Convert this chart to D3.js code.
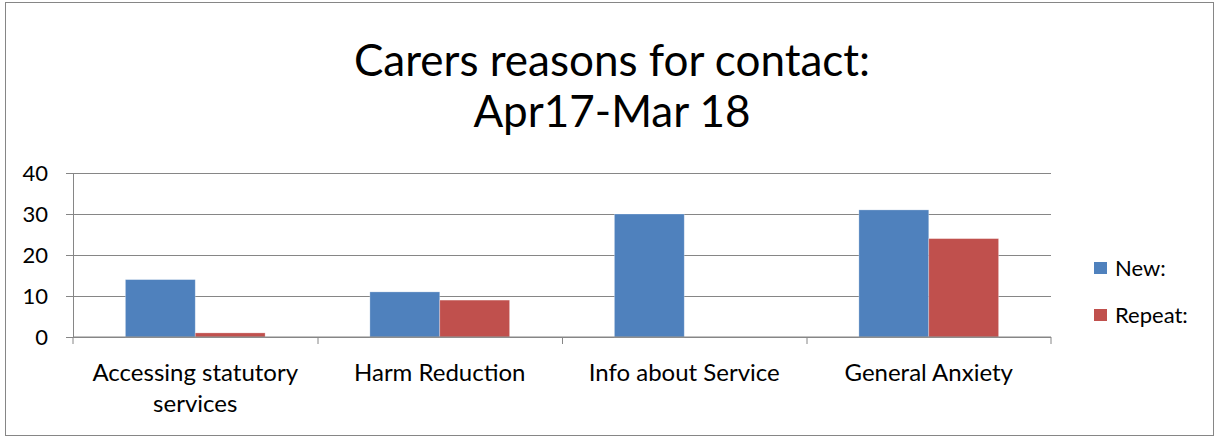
<!DOCTYPE html>
<html>
<head>
<meta charset="utf-8">
<script src="https://cdn.jsdelivr.net/npm/d3@7"></script>
<style>
  body { margin: 0; background: #fff; }
  svg text { font-family: Lato, "Open Sans", sans-serif; fill: #000; }
</style>
</head>
<body>
<div class="chartContainer"></div>
<script>
// data
var categories = ['Accessing statutory services', 'Harm Reduction', 'Info about Service', 'General Anxiety']
var catLines = [['Accessing statutory', 'services'], ['Harm Reduction'], ['Info about Service'], ['General Anxiety']]
var seriesNames = ['New:', 'Repeat:']
var newValues = [14, 11, 30, 31]
var repeatValues = [1, 9, 0, 24]
var yTicks = [0, 10, 20, 30, 40]
var titleLines = ['Carers reasons for contact:', 'Apr17-Mar 18']

var blue = '#4F81BD'
var red = '#C0504D'
var grey = '#868686'

let width = 1216, height = 436
let margin = {top: 173, right: 165, bottom: 99, left: 73}

var svg = d3.select('.chartContainer').append('svg')
    .attr('width', width)
    .attr('height', height)
    .attr('viewBox', [0, 0, width, height])

// outer border
svg.append('rect')
    .attr('x', 5.5).attr('y', 2.5)
    .attr('width', width - 8).attr('height', height - 3)
    .attr('fill', 'none')
    .attr('stroke', grey)

let x0 = d3.scaleBand()
    .domain(categories)
    .range([margin.left, width - margin.right])
    .paddingInner(0)
    .paddingOuter(0)

// excel style gap width 150%
let barW = x0.bandwidth() / 3.5
let gap = (x0.bandwidth() - 2 * barW) / 2

let y0 = d3.scaleLinear()
    .domain([0, 40])
    .range([height - margin.bottom, margin.top])

// gridlines + y axis
let yAxis = g => g
    .attr('transform', 'translate(' + margin.left + ',0)')
    .call(d3.axisLeft(y0).tickValues(yTicks).tickSize(7).tickPadding(18))
    .call(g => g.select('.domain').attr('stroke', grey))
    .call(g => g.selectAll('.tick line').attr('stroke', grey))
    .call(g => g.selectAll('.tick').append('line')
        .attr('x1', 0).attr('x2', width - margin.right - margin.left)
        .attr('stroke', grey))
    .call(g => g.selectAll('text')
        .attr('font-size', 22)
        .attr('fill', '#000'))

svg.append('g').call(yAxis)

// bars
var series = [newValues, repeatValues]
var colors = [blue, red]

series.forEach(function(vals, i) {
    svg.append('g')
        .selectAll('rect')
        .data(vals)
        .enter()
        .append('rect')
        .attr('x', (d, j) => x0(categories[j]) + gap + i * barW)
        .attr('y', d => y0(d))
        .attr('width', barW)
        .attr('height', d => y0(0) - y0(d))
        .attr('fill', colors[i])
        .attr('stroke', d => d > 0 ? 'rgba(255,255,255,0.35)' : 'none')
        .attr('stroke-width', 0.8)
})

// x axis
let xAxis = g => g
    .attr('transform', 'translate(0,' + y0(0) + ')')
    .call(d3.axisBottom(x0).tickSize(0).tickFormat(''))
    .call(g => g.select('.domain').attr('stroke', grey).attr('d',
        'M' + margin.left + ',7V0H' + (width - margin.right) + 'V7'))

svg.append('g').call(xAxis)

// category separators
svg.append('g')
    .selectAll('line')
    .data(categories.slice(1))
    .enter()
    .append('line')
    .attr('x1', d => x0(d) + 0.5).attr('x2', d => x0(d) + 0.5)
    .attr('y1', y0(0)).attr('y2', y0(0) + 7)
    .attr('stroke', grey)

// category labels
var labels = svg.append('g')
    .selectAll('text')
    .data(categories)
    .enter()
    .append('text')
    .attr('text-anchor', 'middle')
    .attr('font-size', 24)
    .attr('x', d => x0(d) + x0.bandwidth() / 2)
    .attr('y', y0(0) + 44)

labels.selectAll('tspan')
    .data((d, i) => catLines[i])
    .enter()
    .append('tspan')
    .attr('x', function() { return this.parentNode.getAttribute('x') })
    .attr('dy', (d, i) => i == 0 ? 0 : 31)
    .text(d => d)

// title
svg.append('text')
    .attr('text-anchor', 'middle')
    .attr('font-size', 44)
    .attr('x', 612)
    .attr('y', 76)
    .selectAll('tspan')
    .data(titleLines)
    .enter()
    .append('tspan')
    .attr('x', 612)
    .attr('dy', (d, i) => i == 0 ? 0 : 51)
    .text(d => d)

// legend
var legend = svg.append('g')
    .attr('transform', 'translate(1094,262)')

var items = legend.selectAll('g')
    .data(seriesNames)
    .enter()
    .append('g')
    .attr('transform', (d, i) => 'translate(0,' + i * 47 + ')')

items.append('rect')
    .attr('width', 13).attr('height', 12)
    .attr('fill', (d, i) => colors[i])

items.append('text')
    .attr('x', 21)
    .attr('y', 14)
    .attr('font-size', 22)
    .text(d => d)
</script>
</body>
</html>
